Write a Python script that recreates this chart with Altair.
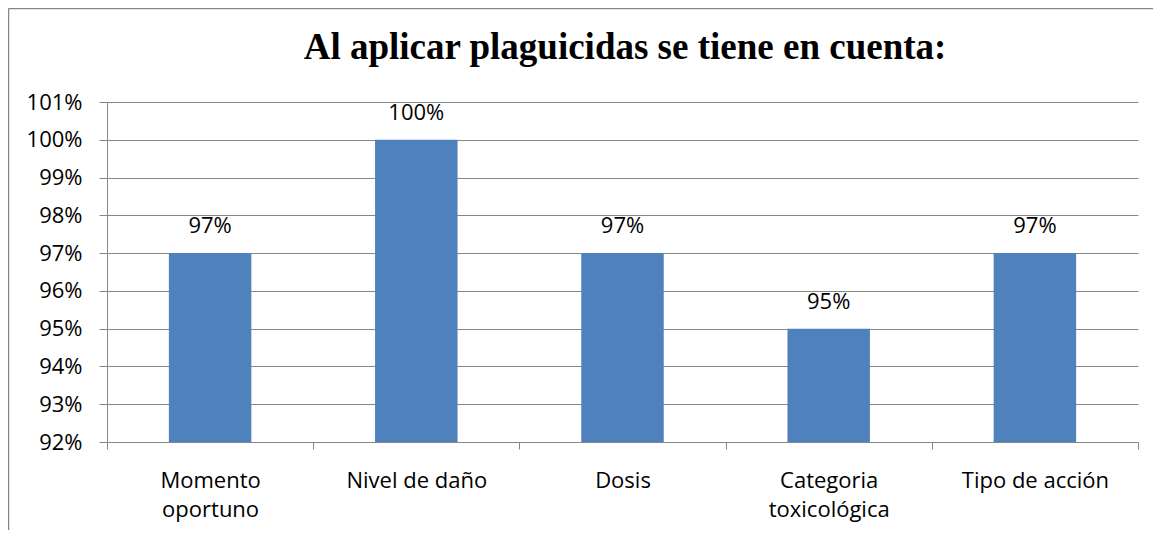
import altair as alt
import pandas as pd

categories = ["Momento\noportuno", "Nivel de daño", "Dosis", "Categoria\ntoxicológica", "Tipo de acción"]
values = [0.97, 1.00, 0.97, 0.95, 0.97]
labels = ["97%", "100%", "97%", "95%", "97%"]
y_ticks = [0.92, 0.93, 0.94, 0.95, 0.96, 0.97, 0.98, 0.99, 1.00, 1.01]
title_text = "Al aplicar plaguicidas se tiene en cuenta:"

df = pd.DataFrame({"cat": categories, "val": values, "lab": labels})

FONT = "Open Sans"
GRID = "#868686"

base = alt.Chart(df).encode(
    x=alt.X(
        "cat:N",
        sort=categories,
        scale=alt.Scale(paddingInner=0, paddingOuter=0),
        axis=alt.Axis(
            title=None,
            labelAngle=0,
            labelExpr="split(datum.label, '\\n')",
            labelFont=FONT,
            labelFontSize=22,
            labelColor="#000000",
            labelLineHeight=29,
            labelPadding=21,
            labelBaseline="top",
            tickBand="extent",
            tickSize=7,
            tickColor=GRID,
            domainColor=GRID,
            grid=False,
        ),
    ),
    y=alt.Y(
        "val:Q",
        scale=alt.Scale(domain=[0.92, 1.01], zero=False, nice=False),
        axis=alt.Axis(
            title=None,
            values=y_ticks,
            format=".0%",
            labelOverlap=False,
            labelFont=FONT,
            labelFontSize=22,
            labelColor="#000000",
            labelPadding=17,
            tickSize=8,
            tickColor=GRID,
            domainColor=GRID,
            gridColor=GRID,
            gridWidth=1,
        ),
    ),
)

bars = base.mark_bar(color="#4F81BD", width={"band": 0.4}).encode(y2=alt.datum(0.92))

text = base.mark_text(
    font=FONT, fontSize=22, color="#000000", baseline="alphabetic", dy=-20
).encode(text="lab:N")

one = pd.DataFrame({"t": [title_text]})
title = alt.Chart(one).mark_text(
    font="Liberation Serif", fontSize=37, fontWeight="bold", color="#000000",
    align="center", baseline="alphabetic"
).encode(x=alt.value(518), y=alt.value(-43), text="t:N")

frame_top = alt.Chart(one).mark_rule(color=GRID, strokeWidth=1.5).encode(
    x=alt.value(-98.5), x2=alt.value(1060), y=alt.value(-93.5)
)
frame_left = alt.Chart(one).mark_rule(color=GRID, strokeWidth=1.5).encode(
    x=alt.value(-98.5), y=alt.value(-93.5), y2=alt.value(440)
)

chart = alt.layer(bars, text, title, frame_top, frame_left).properties(
    width=1031,
    height=340,
    autosize=alt.AutoSizeParams(type="none"),
    padding={"left": 99, "top": 94, "right": 15, "bottom": 88},
    background="white",
).configure_view(strokeWidth=0)

chart.save("out.html", embed_options={"renderer": "svg", "actions": False})
